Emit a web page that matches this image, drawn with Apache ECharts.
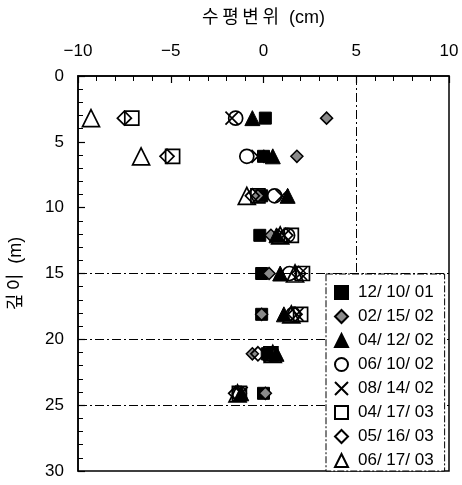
<!DOCTYPE html>
<html><head><meta charset="utf-8">
<script src="https://cdn.jsdelivr.net/npm/echarts@6/dist/echarts.min.js"></script>
<style>html,body{margin:0;padding:0;background:#fff}#c{width:462px;height:485px}</style>
</head><body><div id="c"></div>
<script>
const depths = [3.2, 6.1, 9.1, 12.1, 15.0, 18.1, 21.1, 24.1];
const seriesNames = ['12/10/01','02/15/02','04/12/02','06/10/02','08/14/02','04/17/03','05/16/03','06/17/03'];
const s121001 = [0.1, 0.0, -0.1, -0.2, -0.1, -0.1, 0.2, 0.0];
const s021502 = [3.4, 1.8, -0.3, 0.4, 0.3, -0.1, -0.6, 0.1];
const s041202 = [-0.6, 0.5, 1.3, 0.7, 0.9, 1.1, 0.7, -1.2];
const s061002 = [-1.5, -0.9, 0.6, 1.3, 1.4, 1.6, 0.4, -1.3];
const s081402 = [-1.7, -0.3, 1.0, 1.1, 2.0, 1.8, 0.3, -1.2];
const s041703 = [-7.1, -4.9, -0.3, 1.5, 2.1, 2.0, 0.4, -1.3];
const s051603 = [-7.5, -5.2, -0.6, 1.2, 1.9, 1.7, -0.3, -1.5];
const s061703 = [-9.3, -6.6, -0.9, 0.9, 1.7, 1.5, 0.5, -1.4];
const xTicks = [-10, 10, 5];
const yTicks = [0, 30, 5];
const refX = [5];
const refY = [15, 20, 25];

const allVals = [s121001, s021502, s041202, s061002, s081402, s041703, s051603, s061703];
const FONT = '"Liberation Sans", Arial, "Noto Sans CJK KR", sans-serif';
const T = 'rgba(0,0,0,0)';
const styles = [
  {symbol:'rect', size:12, item:{color:'#000', borderColor:'#000', borderWidth:1, opacity:1}},
  {symbol:'diamond', size:12, item:{color:'#8a8a8a', borderColor:'#000', borderWidth:1.5, opacity:1}},
  {symbol:'triangle', size:15, item:{color:'#000', borderColor:'#000', borderWidth:1, opacity:1}},
  {symbol:'circle', size:14, item:{color:T, borderColor:'#000', borderWidth:1.7, opacity:1}},
  {symbol:'path://M0,0L10,10M10,0L0,10', size:13, item:{color:T, borderColor:'#000', borderWidth:1.7, opacity:1}},
  {symbol:'rect', size:14, item:{color:T, borderColor:'#000', borderWidth:1.7, opacity:1}},
  {symbol:'diamond', size:14, item:{color:T, borderColor:'#000', borderWidth:1.7, opacity:1}},
  {symbol:'triangle', size:17, item:{color:T, borderColor:'#000', borderWidth:1.7, opacity:1}}
];

const series = seriesNames.map((n, i) => ({
  name: n, type: 'scatter', symbol: styles[i].symbol, symbolSize: styles[i].size,
  itemStyle: styles[i].item, z: 2 + i,
  emphasis: {disabled: true},
  data: depths.map((d, k) => [allVals[i][k], d])
}));
series.push({
  type: 'scatter', data: [], silent: true, z: 1,
  markLine: {
    silent: true, symbol: 'none', label: {show: false}, z: 1,
    lineStyle: {color: '#000', width: 1, type: [9, 3, 2, 3]},
    data: refX.map(v => ({xAxis: v})).concat(refY.map(v => ({yAxis: v})))
  }
});

const chart = echarts.init(document.getElementById('c'));
chart.setOption({
  animation: false,
  backgroundColor: '#fff',
  textStyle: {fontFamily: FONT},
  grid: {left: 78, right: 13, top: 76, bottom: 14, outerBoundsMode: 'none', containLabel: false,
         show: true, borderColor: '#000', borderWidth: 1.5, backgroundColor: 'transparent'},
  xAxis: {
    type: 'value', position: 'top', min: xTicks[0], max: xTicks[1], interval: xTicks[2],
    name: '수\u2009평\u2009변\u2009위  (cm)', nameLocation: 'middle', nameGap: 49,
    nameTextStyle: {fontSize: 18, color: '#000', fontFamily: FONT},
    axisLine: {show: true, onZero: false, lineStyle: {color: '#000', width: 1.5}},
    axisTick: {show: true, inside: true, length: 7, lineStyle: {color: '#000', width: 1.2}},
    minorTick: {show: true, splitNumber: 5, length: 5, lineStyle: {color: '#000', width: 1}},
    axisLabel: {fontSize: 17, color: '#000', margin: 16, fontFamily: FONT, formatter: v => v < 0 ? '\u2212' + Math.abs(v) : String(v)},
    splitLine: {show: false}
  },
  yAxis: {
    type: 'value', inverse: true, min: yTicks[0], max: yTicks[1], interval: yTicks[2],
    name: '깊\u2009이  (m)', nameLocation: 'middle', nameGap: 53, nameRotate: 90,
    nameTextStyle: {fontSize: 18, color: '#000', fontFamily: FONT},
    axisLine: {show: true, onZero: false, lineStyle: {color: '#000', width: 1.5}},
    axisTick: {show: true, inside: true, length: 7, lineStyle: {color: '#000', width: 1.2}},
    minorTick: {show: true, splitNumber: 5, length: 5, lineStyle: {color: '#000', width: 1}},
    axisLabel: {fontSize: 17, color: '#000', margin: 14, fontFamily: FONT},
    splitLine: {show: false}
  },
  legend: {
    z: 50, zlevel: 0,
    data: seriesNames, orient: 'vertical', left: 326, top: 274,
    itemWidth: 13, itemHeight: 13, itemGap: 7, padding: [10, 11, 2, 8],
    backgroundColor: '#fff', borderColor: '#000', borderWidth: 1, borderType: [7, 2, 2, 2],
    formatter: n => n.replace(/\//g, '/ '),
    textStyle: {fontSize: 17, lineHeight: 17, color: '#000', fontFamily: FONT, padding: [0, 0, 0, 5]}
  },
  series: series
});
</script></body></html>
